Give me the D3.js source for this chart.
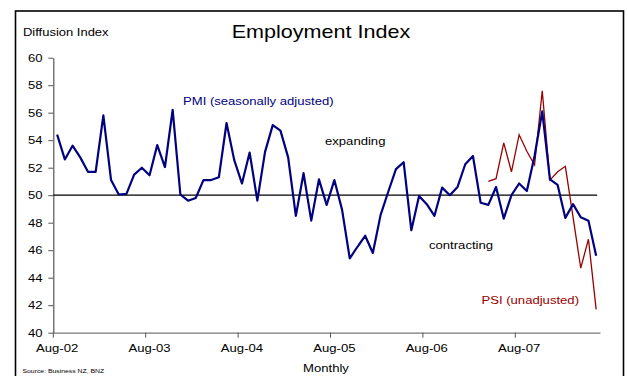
<!DOCTYPE html>
<html>
<head>
<meta charset="utf-8">
<script src="https://cdn.jsdelivr.net/npm/d3@7"></script>
<style>
  html, body { margin: 0; padding: 0; background: #fff; }
  svg { display: block; font-family: "Liberation Sans", Arial, sans-serif; }
</style>
</head>
<body>
<svg id="chart" width="628" height="376"></svg>
<script>
const months = [
  "Aug-02","Sep-02","Oct-02","Nov-02","Dec-02",
  "Jan-03","Feb-03","Mar-03","Apr-03","May-03","Jun-03","Jul-03","Aug-03","Sep-03","Oct-03","Nov-03","Dec-03",
  "Jan-04","Feb-04","Mar-04","Apr-04","May-04","Jun-04","Jul-04","Aug-04","Sep-04","Oct-04","Nov-04","Dec-04",
  "Jan-05","Feb-05","Mar-05","Apr-05","May-05","Jun-05","Jul-05","Aug-05","Sep-05","Oct-05","Nov-05","Dec-05",
  "Jan-06","Feb-06","Mar-06","Apr-06","May-06","Jun-06","Jul-06","Aug-06","Sep-06","Oct-06","Nov-06","Dec-06",
  "Jan-07","Feb-07","Mar-07","Apr-07","May-07","Jun-07","Jul-07","Aug-07","Sep-07","Oct-07","Nov-07","Dec-07",
  "Jan-08","Feb-08","Mar-08","Apr-08","May-08","Jun-08"
];
const pmi = [
  54.4, 52.6, 53.6, 52.75, 51.7, 51.7, 55.8, 51.1, 50.05, 50.1, 51.5, 52.0,
  51.45, 53.65, 52.05, 56.2, 50.05, 49.6, 49.8, 51.1, 51.1, 51.3, 55.25, 52.55,
  50.85, 53.1, 49.6, 53.15, 55.1, 54.7, 52.75, 48.5, 51.6, 48.15, 51.15, 49.3,
  51.1, 48.95, 45.4, 46.25, 47.05, 45.8, 48.55, 50.25, 51.9, 52.4, 47.45, 49.95,
  49.35, 48.5, 50.55, 50.0, 50.6, 52.25, 52.85, 49.45, 49.3, 50.6, 48.3, 50.0,
  50.85, 50.3, 52.85, 56.1, 51.15, 50.75, 48.35, 49.35, 48.4, 48.15, 45.6
];
const psiMonths = [
  "Apr-07","May-07","Jun-07","Jul-07","Aug-07","Sep-07","Oct-07","Nov-07",
  "Dec-07","Jan-08","Feb-08","Mar-08","Apr-08","May-08","Jun-08"
];
const psi = [51.0, 51.2, 53.8, 51.7, 54.4, 53.2, 52.2, 57.6, 51.1, 51.7, 52.1, 48.4, 44.7, 46.8, 41.7];
const xTickLabels = ["Aug-02","Aug-03","Aug-04","Aug-05","Aug-06","Aug-07"];
const yTicks = [40, 42, 44, 46, 48, 50, 52, 54, 56, 58, 60];
const refValue = 50;

const SX = 1.16; // horizontal text stretch of the reference
const svg = d3.select("#chart");

// frame
svg.append("rect")
  .attr("x", 15.5).attr("y", 11).attr("width", 608).attr("height", 380)
  .attr("fill", "none").attr("stroke", "#000").attr("stroke-width", 1.6);

const x = d3.scaleBand().domain(months).range([53.3, 600]).padding(0);
const y = d3.scaleLinear().domain([40, 60]).range([332.7, 57.7]);
const bw = x.bandwidth();
const cx = d => x(d) + bw / 2;

function txt(px, py, s, size, color, anchor) {
  return svg.append("text")
    .attr("transform", `translate(${px},${py}) scale(${SX},1)`)
    .attr("font-size", size)
    .attr("fill", color || "#000")
    .attr("text-anchor", anchor || "start")
    .text(s);
}

// y axis
const yAxis = svg.append("g")
  .attr("transform", `translate(${x.range()[0]},0)`)
  .call(d3.axisLeft(y).tickValues(yTicks).tickSize(5).tickSizeOuter(0).tickPadding(4.2));
yAxis.select(".domain").attr("stroke", "#555").attr("stroke-width", 1.2);
yAxis.selectAll(".tick line").attr("stroke", "#555");
yAxis.selectAll(".tick text")
  .attr("font-family", "Liberation Sans, Arial, sans-serif")
  .attr("font-size", 11.3).attr("fill", "#000")
  .attr("transform", `scale(${SX},1)`);

// x axis
const xAxis = svg.append("g")
  .attr("transform", `translate(0,${y(40)})`)
  .call(d3.axisBottom(x).tickValues(xTickLabels).tickSize(5).tickSizeOuter(0).tickPadding(6));
xAxis.select(".domain").attr("stroke", "#777").attr("stroke-width", 1.3);
xAxis.selectAll(".tick line").attr("stroke", "#555").attr("x1", -bw / 2).attr("x2", -bw / 2);
xAxis.selectAll(".tick text")
  .attr("font-family", "Liberation Sans, Arial, sans-serif")
  .attr("font-size", 11.3).attr("fill", "#000")
  .attr("transform", `scale(${SX},1)`);

// 50 line
svg.append("line")
  .attr("x1", x.range()[0]).attr("x2", cx(months[months.length - 1]) + 1)
  .attr("y1", y(refValue)).attr("y2", y(refValue))
  .attr("stroke", "#000").attr("stroke-width", 1.3);

// PSI line
const psiData = psi.map((v, i) => ({ m: months[months.length - psi.length + i], v }));
svg.append("path")
  .datum(psiData)
  .attr("fill", "none").attr("stroke", "#990000").attr("stroke-width", 1.3)
  .attr("stroke-linejoin", "miter")
  .attr("d", d3.line().x(d => cx(d.m)).y(d => y(d.v)));

// PMI line
const pmiData = pmi.map((v, i) => ({ m: months[i], v }));
svg.append("path")
  .datum(pmiData)
  .attr("fill", "none").attr("stroke", "#000080").attr("stroke-width", 2.2)
  .attr("stroke-linejoin", "round")
  .attr("d", d3.line().x(d => cx(d.m)).y(d => y(d.v)));

// texts
txt(321, 38, "Employment Index", 18.6, "#000", "middle");
txt(23, 36, "Diffusion Index", 11.2, "#000");
txt(183, 105, "PMI (seasonally adjusted)", 11.3, "#000080");
txt(325, 145, "expanding", 11.3, "#000");
txt(429, 249, "contracting", 11.3, "#000");
txt(481.5, 303.5, "PSI (unadjusted)", 11.3, "#990000");
txt(326, 371.5, "Monthly", 11.3, "#000", "middle");
txt(22.5, 373, "Source: Business NZ, BNZ", 5.9, "#000");
</script>
</body>
</html>
